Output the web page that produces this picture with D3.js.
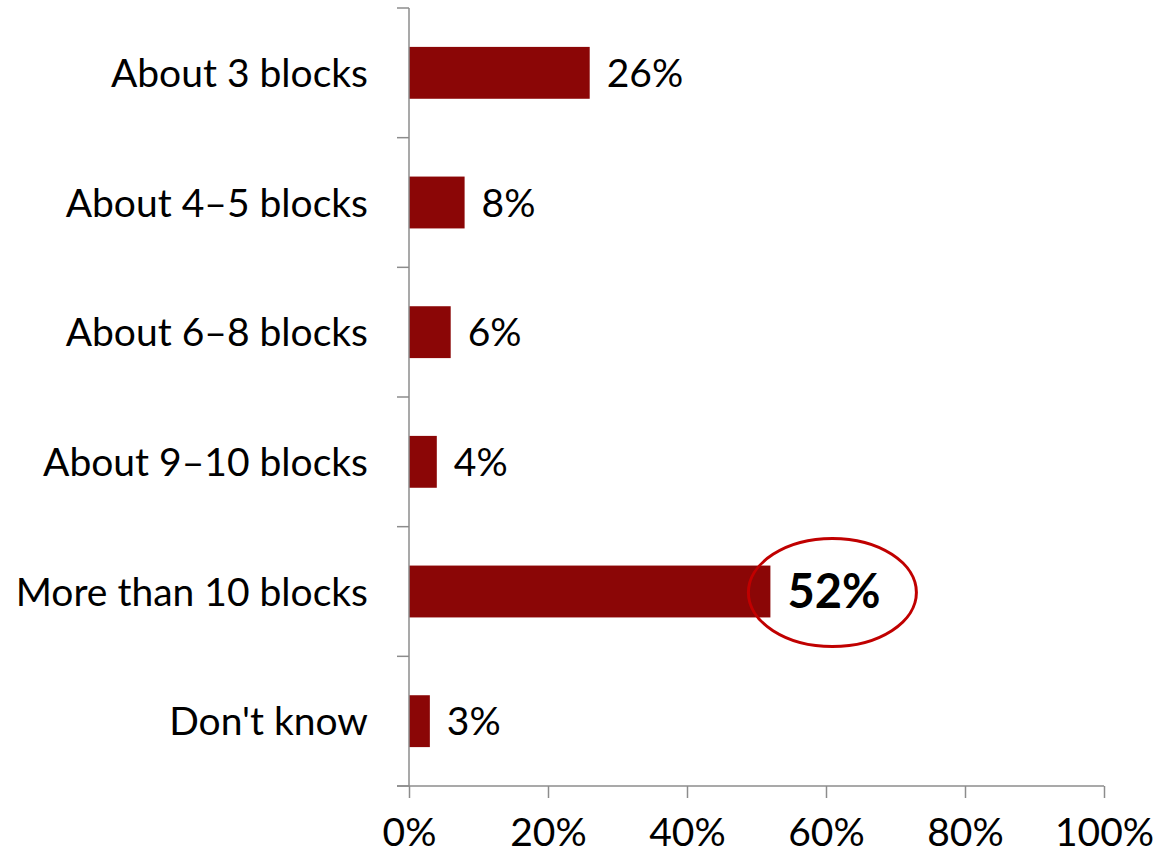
<!DOCTYPE html>
<html>
<head>
<meta charset="utf-8">
<script src="https://cdn.jsdelivr.net/npm/d3@7"></script>
<style>
  html, body { margin: 0; padding: 0; background: #fff; }
  svg text { font-family: Lato, "Open Sans", sans-serif; fill: #000; }
</style>
</head>
<body>
<svg id="chart" width="1153" height="857"></svg>
<script>
// Survey answers and shares (percent)
const categories = ["About 3 blocks", "About 4\u20135 blocks", "About 6\u20138 blocks",
                    "About 9\u201310 blocks", "More than 10 blocks", "Don't know"];
const shares = [26, 8, 6, 4, 52, 3];
const xTicks = [0, 20, 40, 60, 80, 100];
const highlighted = "More than 10 blocks";

const svg = d3.select("#chart");
const plotLeft = 409, plotRight = 1104, plotTop = 8, plotBottom = 786;
const fontSize = 39;
const axisColor = "#8c8c8c";
const barColor = "#8b0606";

const x = d3.scaleLinear().domain([0, 100]).range([plotLeft, plotRight]);
const y = d3.scaleBand().domain(categories).range([plotTop, plotBottom])
  .paddingInner(0.6).paddingOuter(0.3);

// Bars
svg.append("g").selectAll("rect").data(categories).join("rect")
  .attr("x", x(0))
  .attr("y", d => y(d))
  .attr("width", (d, i) => x(shares[i]) - x(0))
  .attr("height", y.bandwidth())
  .attr("fill", barColor);

// Value labels
svg.append("g").selectAll("text").data(categories).join("text")
  .attr("x", (d, i) => x(shares[i]) + 17)
  .attr("y", d => y(d) + y.bandwidth() / 2)
  .attr("dy", "0.36em")
  .attr("font-size", d => d === highlighted ? 47 : fontSize)
  .attr("font-weight", d => d === highlighted ? 700 : 400)
  .text((d, i) => shares[i] + "%");

// Circle around the highlighted value
const hi = categories.indexOf(highlighted);
svg.append("ellipse")
  .attr("cx", x(shares[hi]) + 62)
  .attr("cy", y(highlighted) + y.bandwidth() / 2 + 1)
  .attr("rx", 84)
  .attr("ry", 54)
  .attr("fill", "none")
  .attr("stroke", "#c00000")
  .attr("stroke-width", 3);

// Category axis: ticks sit between categories
const step = y.step();
const bounds = d3.range(categories.length + 1).map(i => plotTop + i * step);
const yAxis = svg.append("g");
yAxis.append("line")
  .attr("x1", plotLeft).attr("x2", plotLeft).attr("y1", plotTop).attr("y2", plotBottom)
  .attr("stroke", axisColor).attr("stroke-width", 1.5);
yAxis.selectAll("line.tick").data(bounds).join("line")
  .attr("class", "tick")
  .attr("x1", plotLeft - 12).attr("x2", plotLeft)
  .attr("y1", d => d).attr("y2", d => d)
  .attr("stroke", axisColor).attr("stroke-width", 1.5);
yAxis.selectAll("text").data(categories).join("text")
  .attr("x", plotLeft - 41)
  .attr("y", d => y(d) + y.bandwidth() / 2)
  .attr("dy", "0.36em")
  .attr("text-anchor", "end")
  .attr("font-size", fontSize)
  .text(d => d);

// Value axis
const xAxis = svg.append("g").attr("transform", `translate(0,${plotBottom})`)
  .call(d3.axisBottom(x).tickValues(xTicks).tickSize(12).tickPadding(20)
    .tickFormat(d => d + "%"));
xAxis.select(".domain").attr("stroke", axisColor).attr("stroke-width", 1.5)
  .attr("d", `M${plotLeft - 12},0H${plotRight}`);
xAxis.selectAll(".tick line").attr("stroke", axisColor).attr("stroke-width", 1.5);
xAxis.selectAll(".tick text").attr("font-size", fontSize)
  .attr("font-family", "Lato, sans-serif").attr("fill", "#000");
</script>
</body>
</html>
